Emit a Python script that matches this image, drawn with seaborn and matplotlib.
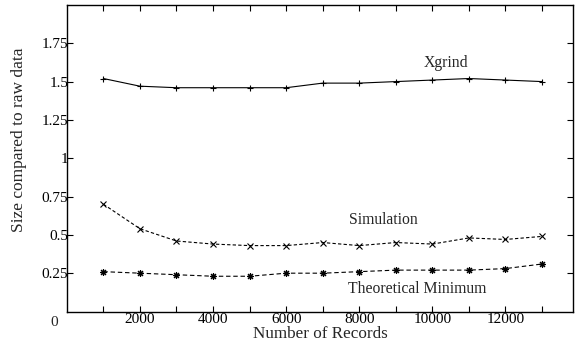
import numpy as np
import pandas as pd
import seaborn as sns
import matplotlib.pyplot as plt
from matplotlib.ticker import FixedLocator, FuncFormatter
from matplotlib.transforms import offset_copy

records = [1000, 2000, 3000, 4000, 5000, 6000, 7000, 8000, 9000, 10000, 11000, 12000, 13000]
xgrind = [1.52, 1.47, 1.46, 1.46, 1.46, 1.46, 1.49, 1.49, 1.50, 1.51, 1.52, 1.51, 1.50]
simulation = [0.70, 0.54, 0.46, 0.44, 0.43, 0.43, 0.45, 0.43, 0.45, 0.44, 0.48, 0.47, 0.49]
theoretical = [0.26, 0.25, 0.24, 0.23, 0.23, 0.25, 0.25, 0.26, 0.27, 0.27, 0.27, 0.28, 0.31]

y_ticks = [0.25, 0.5, 0.75, 1, 1.25, 1.5, 1.75]
y_labels = ["0.25", "0.5", "0.75", "1", "1.25", "1.5", "1.75"]

sns.set_theme(style="ticks")
plt.rcParams["font.family"] = ["Liberation Serif", "DejaVu Serif"]

fig = plt.figure(figsize=(5.76, 3.46), dpi=100)
ax = fig.add_axes([0.116, 0.0997, 0.879, 0.886])

series = [
    ("Xgrind", xgrind, "+", "-", 5),
    ("Simulation", simulation, "x", (0, (3, 2)), 4),
    ("Theoretical Minimum", theoretical, (8, 2, 0), (0, (4, 2.5)), 5),
]
for name, vals, mk, ls, ms in series:
    sns.lineplot(x=records, y=vals, ax=ax, color="black", marker=mk, markersize=ms,
                 markeredgewidth=0.8, markeredgecolor="black", linestyle=ls, linewidth=0.8)

ax.text(10360, 1.62, "Xgrind", ha="center", va="center", fontsize=11.3)
ax.text(8660, 0.60, "Simulation", ha="center", va="center", fontsize=11.3)
ax.text(9590, 0.147, "Theoretical Minimum", ha="center", va="center", fontsize=11.3)

ax.set_xlim(0, 13850)
ax.set_ylim(0, 2)
ax.xaxis.set_major_locator(FixedLocator(records))
ax.xaxis.set_major_formatter(FuncFormatter(lambda v, p: f"{int(v)}" if int(v) % 2000 == 0 else ""))
ax.set_yticks(y_ticks)
ax.set_yticklabels(y_labels)
ax.tick_params(direction="in", length=4, width=0.8, top=True, right=True,
               labelsize=11, pad=1, colors="black")
ax.tick_params(axis="y", pad=-1)
for s in ax.spines.values():
    s.set_linewidth(1.0)
    s.set_color("black")
zero_tr = offset_copy(ax.transAxes, fig=fig, x=-6, y=-8, units="points")
ax.text(0, 0, "0", transform=zero_tr, ha="right", va="center", fontsize=11)

ax.set_xlabel("Number of Records", fontsize=12.3, labelpad=0)
ax.set_ylabel("Size compared to raw data", fontsize=12.5)
ax.yaxis.set_label_coords(-0.079, 0.56)

fig.savefig("out.png", dpi=100)
